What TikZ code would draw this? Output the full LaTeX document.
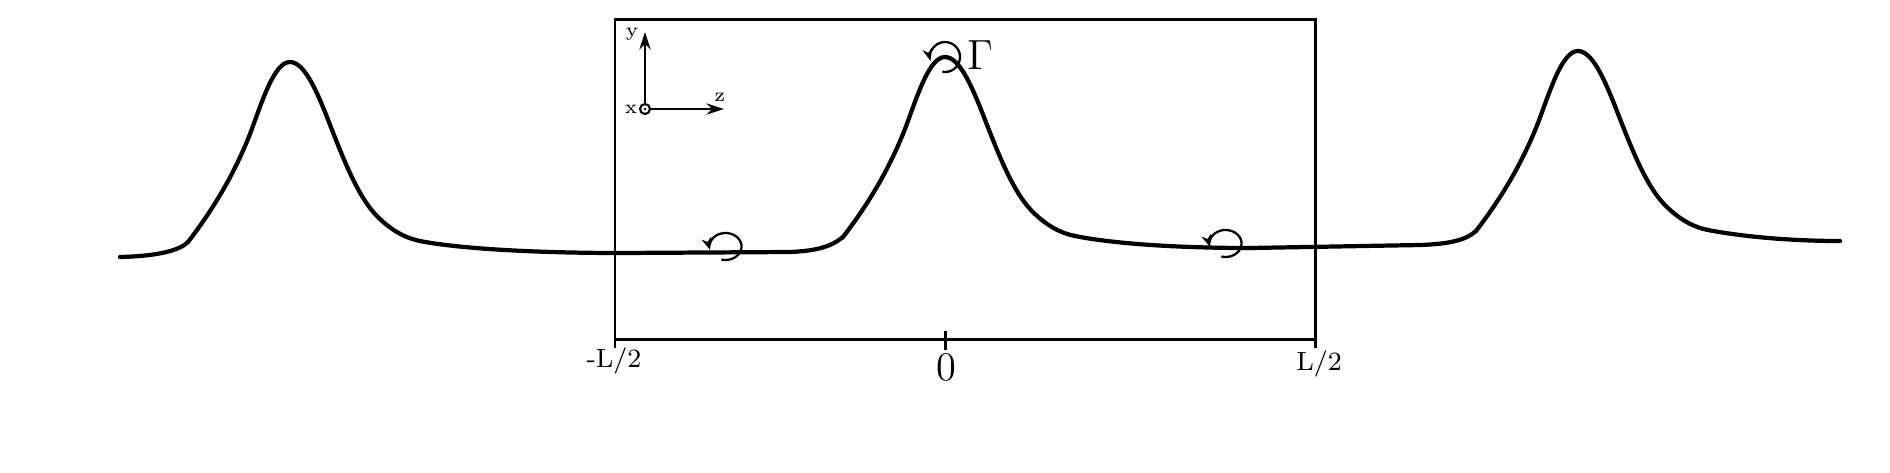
\documentclass[tikz,border=0pt]{standalone}
\usetikzlibrary{arrows.meta}
\begin{document}
\begin{tikzpicture}[x=0.01cm,y=-0.01cm,
  wave/.style={line width=1.2pt,line cap=round,line join=round},
  frame/.style={line width=0.85pt},
  axisarrow/.style={line width=0.6pt,-{Stealth[length=5pt,width=3.2pt]}},
  spin/.style={line width=0.65pt,-{Stealth[length=3.5pt,width=2.8pt]}},
  lab/.style={inner sep=0pt,font=\fontsize{7.5}{9}\selectfont},
  small/.style={inner sep=0pt,font=\fontsize{5.5}{7}\selectfont}]
\useasboundingbox (0,0) rectangle (1890,472);
% frame
\coordinate (TL) at (615,19);
\coordinate (TR) at (1315,19);
\coordinate (BL) at (615,348);
\coordinate (BR) at (1315,348);
\coordinate (AL) at (615,339);
\coordinate (AR) at (1315,339);
\coordinate (C0a) at (945,331);
\coordinate (C0b) at (945,350);
\draw[frame] (BL) -- (TL) -- (TR) -- (BR);
\draw[frame] (AL) -- (AR);
\draw[frame] (C0a) -- (C0b);
% wave
\newcommand{\pulseshape}{(-102,180) .. controls (-75,145) and (-55,110) .. (-40,72)
  .. controls (-28,40) and (-16,0) .. (0,0)
  .. controls (14,0) and (26,28) .. (35,50)
  .. controls (50,88) and (65,130) .. (85,152)
  .. controls (100,168) and (115,176) .. (130,179)}
\draw[wave,shift={(290,62)}] \pulseshape;
\draw[wave,shift={(945,57)}] \pulseshape;
\draw[wave,shift={(1578,51)}] \pulseshape;
\draw[wave] (120,257) .. controls (160,256) and (180,250) .. (188,242);
\draw[wave] (420,241) .. controls (460,249) and (540,253) .. (620,253) -- (790,252) .. controls (815,251) and (831,247) .. (843,237);
\draw[wave] (1075,236) .. controls (1115,244) and (1180,248) .. (1250,248) -- (1420,245) .. controls (1450,244) and (1466,240) .. (1476,231);
\draw[wave] (1708,230) .. controls (1750,238) and (1800,241) .. (1840,241);
% coordinate axes
\coordinate (O) at (645,109);
\coordinate (Ytip) at (645,32);
\coordinate (Ztip) at (724,109);
\draw[axisarrow] (O) ++(0,-5) -- (Ytip);
\draw[axisarrow] (O) ++(5,0) -- (Ztip);
\draw[line width=0.6pt] (O) circle (0.05cm);
\fill (O) circle (0.013cm);
\node[small] (ylab) at (632,34) {y};
\node[small] (xlab) at (631,109) {x};
\node[small] (zlab) at (720,97) {z};
% circulation arrows
\coordinate (G) at (945,57);
\draw[spin] (G) ++(-100:0.15cm) arc (-100:195:0.15cm);
\node[inner sep=0pt,font=\fontsize{11.5}{13}\selectfont] (Gamma) at (980,55) {$\Gamma$};
\coordinate (S1) at (725,246);
\draw[spin] (S1) ++(-105:0.14cm) arc (-105:195:0.16cm and 0.135cm);
\coordinate (S2) at (1225,243);
\draw[spin] (S2) ++(-105:0.14cm) arc (-105:195:0.16cm and 0.135cm);
% labels
\node[lab] (lm) at (614,361) {-L/2};
\node[inner sep=0pt,font=\fontsize{11.5}{13}\selectfont] (l0) at (946,367) {0};
\node[lab] (lp) at (1319,364) {L/2};
\end{tikzpicture}
\end{document}
